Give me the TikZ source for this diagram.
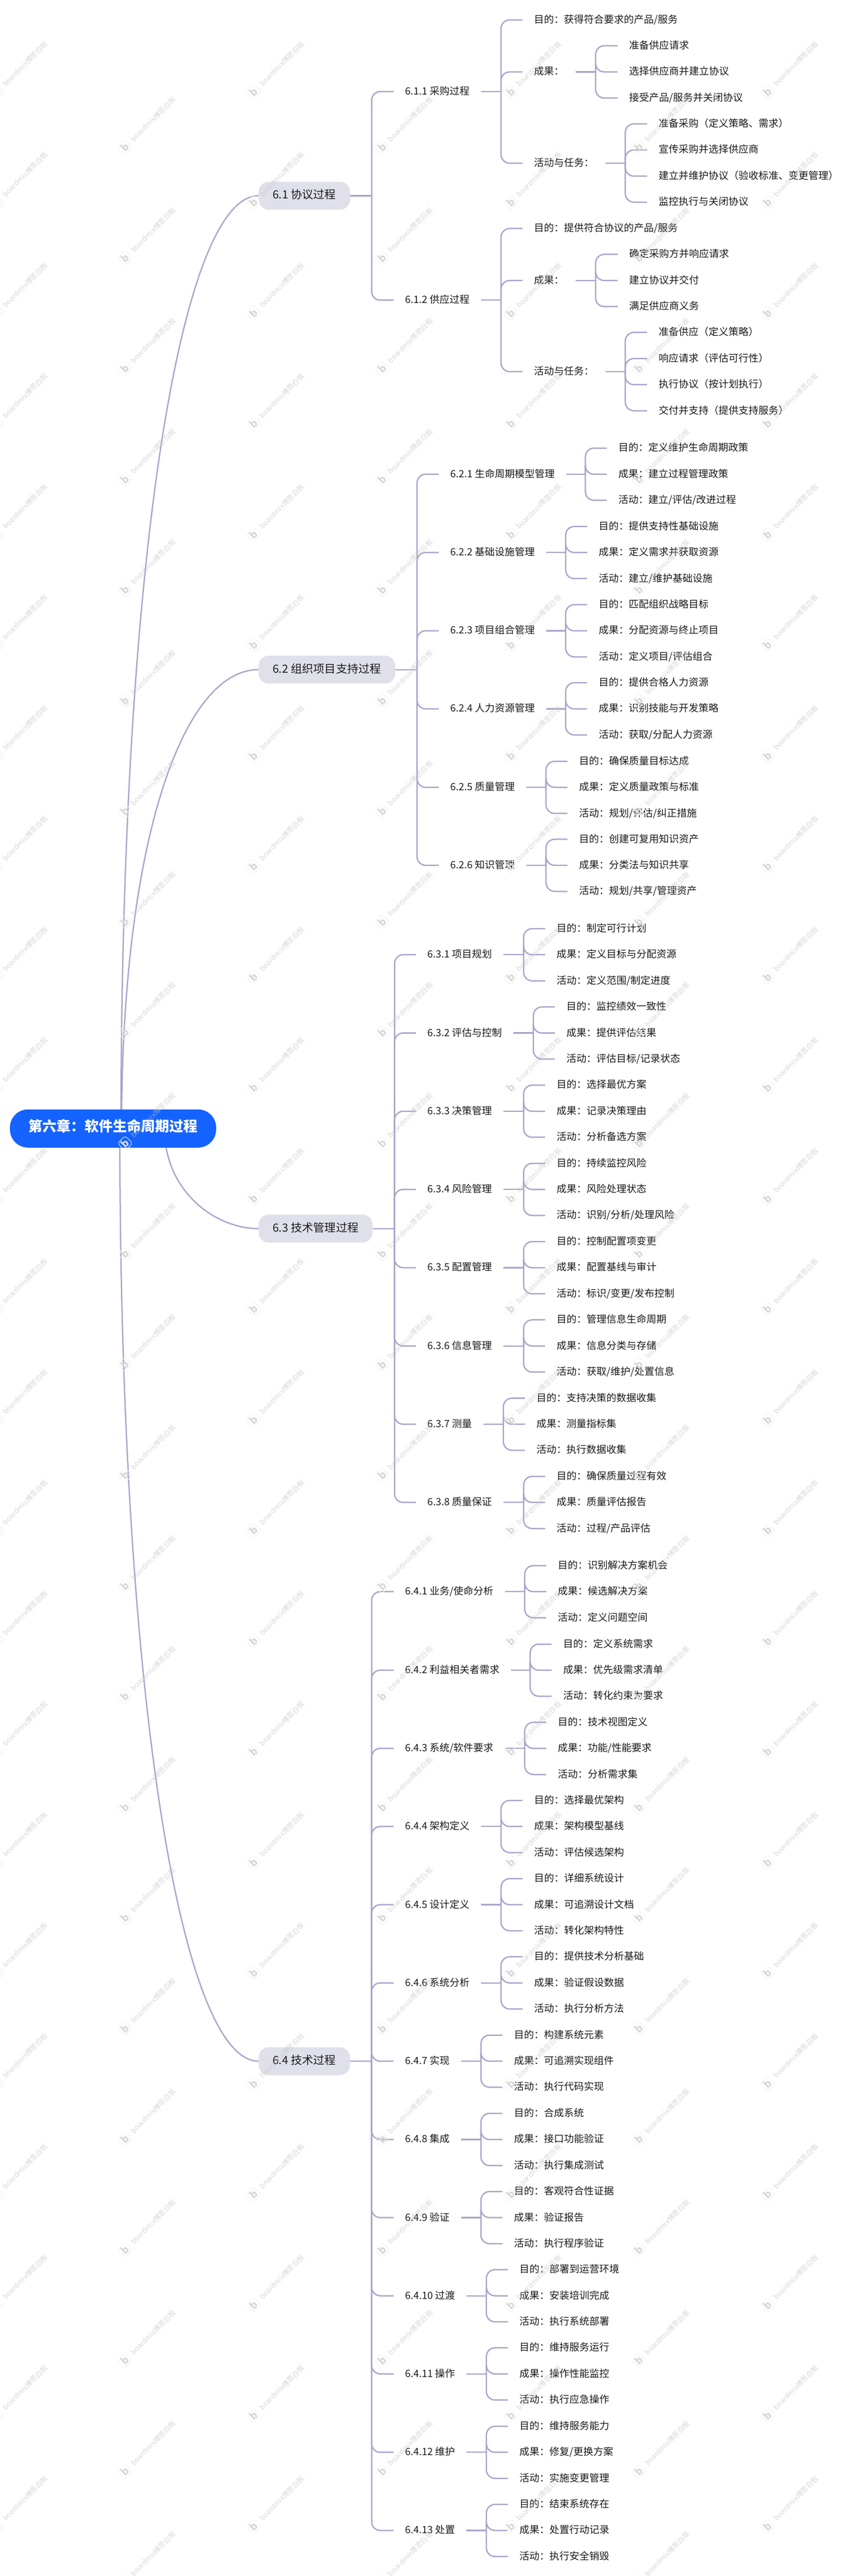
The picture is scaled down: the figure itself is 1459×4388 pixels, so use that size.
\documentclass[tikz,border=0pt]{standalone}
\usepackage{fontspec}
\setmainfont{Noto Sans CJK SC}
\usetikzlibrary{backgrounds}
\definecolor{lnkc}{HTML}{A8A6CA}
\definecolor{rootc}{HTML}{1463FF}
\definecolor{subc}{HTML}{E0E0EA}
\definecolor{txtc}{HTML}{1A1A1A}
\definecolor{wmc}{HTML}{C4C4C4}
\definecolor{wmi}{HTML}{D8D8D8}
\definecolor{wmb}{HTML}{F2F2F2}
\newcommand\pxfont[1]{\fontsize{#1}{#1}\selectfont}
\tikzset{
  lnk/.style={draw=lnkc,line width=1.7pt},
  lnkr/.style={lnk,rounded corners=11pt},
  txtbase/.style={text=txtc,text height=.91em,text depth=.09em,inner ysep=0pt,anchor=west},
  rootn/.style={fill=rootc,text=white,font=\pxfont{18}\bfseries,rounded corners=23pt,inner xsep=23.6pt,minimum height=48.75pt,text height=.91em,text depth=.09em,inner ysep=0pt,anchor=west},
  lone/.style={txtbase,fill=subc,font=\pxfont{14.4},rounded corners=13pt,inner xsep=18pt,minimum height=35.6pt},
  ltwo/.style={txtbase,font=\pxfont{12.75},inner xsep=14.6pt,minimum height=20pt},
  lthree/.style={ltwo},
  wmt/.style={text=wmc,opacity=.65,font=\pxfont{9},rotate=45,anchor=west,inner sep=0pt},
  wmk/.style={text=wmi,draw=wmb,line width=.6pt,font=\pxfont{13}\bfseries,rotate=45,rounded corners=3pt,minimum size=13.5pt,inner sep=0pt}
}
\newcommand\fan[3]{%
  \coordinate (t#1) at (#2,0);
  \draw[lnk] (#1.east) -- (t#1 |- #1.east);
  \foreach \c in {#3}{\draw[lnkr] (t#1 |- #1.east) |- (\c.west);}
}
% id, label, y, trunk, three leaves
\newcommand\trio[7]{%
  \node[ltwo] (#1) at (\lx,#3) {#2};
  \node[lthree] (#1a) at (#4+36.6,#3-44.4) {#5};
  \node[lthree] (#1b) at (#4+36.6,#3) {#6};
  \node[lthree] (#1c) at (#4+36.6,#3+44.4) {#7};
  \fan{#1}{#4}{#1a,#1b,#1c}
}
\begin{document}
\begin{tikzpicture}[x=.75pt,y=-.75pt]
\useasboundingbox (0,0) rectangle (1459,4388);

\node[rootn] (root) at (16.7,1922.3) {第六章：软件生命周期过程};
\node[lone] (n61) at (440,333.4) {6.1 协议过程};
\node[lone] (n62) at (440,1140.7) {6.2 组织项目支持过程};
\node[lone] (n63) at (440,2092.8) {6.3 技术管理过程};
\node[lone] (n64) at (440,3511) {6.4 技术过程};

\coordinate (r1) at (206,1922.3);
\coordinate (r2) at (207,1922.3);
\coordinate (r3) at (280,1922.3);
\coordinate (r4) at (204,1922.3);
\begin{pgfonlayer}{background}
\fill[white] (0,0) rectangle (1459,4388);
\draw[lnk] (r1) .. controls (206,937) and (310,333.4) .. (n61.west);
\draw[lnk] (r2) .. controls (207,1438) and (310,1140.7) .. (n62.west);
\draw[lnk] (r3) .. controls (280,2028) and (365,2092.8) .. (n63.west);
\draw[lnk] (r4) .. controls (204,2900) and (310,3511) .. (n64.west);
\end{pgfonlayer}

% ---- 6.1
\node[ltwo] (a1) at (670,156) {6.1.1 采购过程};
\node[ltwo] (a2) at (670,511.3) {6.1.2 供应过程};
\fan{n61}{632.7}{a1,a2}
\node[lthree] (a1a) at (889.5,34) {目的：获得符合要求的产品/服务};
\node[lthree] (a1b) at (889.5,122.5) {成果：};
\node[lthree] (a1c) at (889.5,278) {活动与任务：};
\fan{a1}{853}{a1a,a1b,a1c}
\node[lthree] (a1b1) at (1051.5,78) {准备供应请求};
\node[lthree] (a1b2) at (1051.5,122.5) {选择供应商并建立协议};
\node[lthree] (a1b3) at (1051.5,167) {接受产品/服务并关闭协议};
\fan{a1b}{1014}{a1b1,a1b2,a1b3}
\node[lthree] (a1c1) at (1101.7,211) {准备采购（定义策略、需求）};
\node[lthree] (a1c2) at (1101.7,255.4) {宣传采购并选择供应商};
\node[lthree] (a1c3) at (1101.7,300) {建立并维护协议（验收标准、变更管理）};
\node[lthree] (a1c4) at (1101.7,344.4) {监控执行与关闭协议};
\fan{a1c}{1064.5}{a1c1,a1c2,a1c3,a1c4}
\node[lthree] (a2a) at (889.5,389.3) {目的：提供符合协议的产品/服务};
\node[lthree] (a2b) at (889.5,477.8) {成果：};
\node[lthree] (a2c) at (889.5,633) {活动与任务：};
\fan{a2}{853}{a2a,a2b,a2c}
\node[lthree] (a2b1) at (1051.5,433.3) {确定采购方并响应请求};
\node[lthree] (a2b2) at (1051.5,477.8) {建立协议并交付};
\node[lthree] (a2b3) at (1051.5,522.3) {满足供应商义务};
\fan{a2b}{1014}{a2b1,a2b2,a2b3}
\node[lthree] (a2c1) at (1101.7,566.3) {准备供应（定义策略）};
\node[lthree] (a2c2) at (1101.7,610.8) {响应请求（评估可行性）};
\node[lthree] (a2c3) at (1101.7,655.3) {执行协议（按计划执行）};
\node[lthree] (a2c4) at (1101.7,699.7) {交付并支持（提供支持服务）};
\fan{a2c}{1064.5}{a2c1,a2c2,a2c3,a2c4}

% ---- 6.2
\def\lx{747}
\trio{b1}{6.2.1 生命周期模型管理}{807.8}{996.5}{目的：定义维护生命周期政策}{成果：建立过程管理政策}{活动：建立/评估/改进过程}
\trio{b2}{6.2.2 基础设施管理}{941.2}{963}{目的：提供支持性基础设施}{成果：定义需求并获取资源}{活动：建立/维护基础设施}
\trio{b3}{6.2.3 项目组合管理}{1074.5}{963}{目的：匹配组织战略目标}{成果：分配资源与终止项目}{活动：定义项目/评估组合}
\trio{b4}{6.2.4 人力资源管理}{1207.5}{963}{目的：提供合格人力资源}{成果：识别技能与开发策略}{活动：获取/分配人力资源}
\trio{b5}{6.2.5 质量管理}{1341.2}{929.6}{目的：确保质量目标达成}{成果：定义质量政策与标准}{活动：规划/评估/纠正措施}
\trio{b6}{6.2.6 知识管理}{1474}{929.6}{目的：创建可复用知识资产}{成果：分类法与知识共享}{活动：规划/共享/管理资产}
\fan{n62}{710}{b1,b2,b3,b4,b5,b6}

% ---- 6.3
\def\lx{708}
\trio{c1}{6.3.1 项目规划}{1626.3}{891.4}{目的：制定可行计划}{成果：定义目标与分配资源}{活动：定义范围/制定进度}
\trio{c2}{6.3.2 评估与控制}{1759.6}{908}{目的：监控绩效一致性}{成果：提供评估结果}{活动：评估目标/记录状态}
\trio{c3}{6.3.3 决策管理}{1892.9}{891.4}{目的：选择最优方案}{成果：记录决策理由}{活动：分析备选方案}
\trio{c4}{6.3.4 风险管理}{2026.1}{891.4}{目的：持续监控风险}{成果：风险处理状态}{活动：识别/分析/处理风险}
\trio{c5}{6.3.5 配置管理}{2159.4}{891.4}{目的：控制配置项变更}{成果：配置基线与审计}{活动：标识/变更/发布控制}
\trio{c6}{6.3.6 信息管理}{2292.7}{891.4}{目的：管理信息生命周期}{成果：信息分类与存储}{活动：获取/维护/处置信息}
\trio{c7}{6.3.7 测量}{2426}{857}{目的：支持决策的数据收集}{成果：测量指标集}{活动：执行数据收集}
\trio{c8}{6.3.8 质量保证}{2559.3}{891.4}{目的：确保质量过程有效}{成果：质量评估报告}{活动：过程/产品评估}
\fan{n63}{671.8}{c1,c2,c3,c4,c5,c6,c7,c8}

% ---- 6.4
\def\lx{670}
\trio{d1}{6.4.1 业务/使命分析}{2711.3}{893.3}{目的：识别解决方案机会}{成果：候选解决方案}{活动：定义问题空间}
\trio{d2}{6.4.2 利益相关者需求}{2845}{902.6}{目的：定义系统需求}{成果：优先级需求清单}{活动：转化约束为要求}
\trio{d3}{6.4.3 系统/软件要求}{2978.2}{893.3}{目的：技术视图定义}{成果：功能/性能要求}{活动：分析需求集}
\trio{d4}{6.4.4 架构定义}{3111.3}{853}{目的：选择最优架构}{成果：架构模型基线}{活动：评估候选架构}
\trio{d5}{6.4.5 设计定义}{3244.5}{853}{目的：详细系统设计}{成果：可追溯设计文档}{活动：转化架构特性}
\trio{d6}{6.4.6 系统分析}{3377.7}{853}{目的：提供技术分析基础}{成果：验证假设数据}{活动：执行分析方法}
\trio{d7}{6.4.7 实现}{3511}{818.8}{目的：构建系统元素}{成果：可追溯实现组件}{活动：执行代码实现}
\trio{d8}{6.4.8 集成}{3644.4}{818.8}{目的：合成系统}{成果：接口功能验证}{活动：执行集成测试}
\trio{d9}{6.4.9 验证}{3777.5}{818.8}{目的：客观符合性证据}{成果：验证报告}{活动：执行程序验证}
\trio{d10}{6.4.10 过渡}{3910.6}{828}{目的：部署到运营环境}{成果：安装培训完成}{活动：执行系统部署}
\trio{d11}{6.4.11 操作}{4043.7}{828}{目的：维持服务运行}{成果：操作性能监控}{活动：执行应急操作}
\trio{d12}{6.4.12 维护}{4177.3}{828}{目的：维持服务能力}{成果：修复/更换方案}{活动：实施变更管理}
\trio{d13}{6.4.13 处置}{4310.4}{828}{目的：结束系统存在}{成果：处置行动记录}{活动：执行安全销毁}
\fan{n64}{632.7}{d1,d2,d3,d4,d5,d6,d7,d8,d9,d10,d11,d12,d13}

% ---- watermark
\begin{scope}
\clip (0,0) rectangle (1459,4388);
\foreach \k in {0,...,22}{
  \foreach \wx/\j in {-5/1,432/2,869.5/3,1307/4}{
    \pgfmathsetmacro\wy{156.5+188.5*\k}
    \node[wmk] (wia\k x\j) at (\wx,\wy) {b};
    \node[wmt] (wta\k x\j) at (\wx+12,\wy-12) {boardmix博思白板};
  }
  \foreach \wx/\j in {213/1,650.5/2,1088/3}{
    \pgfmathsetmacro\wy{251+188.5*\k}
    \node[wmk] (wib\k x\j) at (\wx,\wy) {b};
    \node[wmt] (wtb\k x\j) at (\wx+12,\wy-12) {boardmix博思白板};
  }
}
\end{scope}
\end{tikzpicture}
\end{document}
